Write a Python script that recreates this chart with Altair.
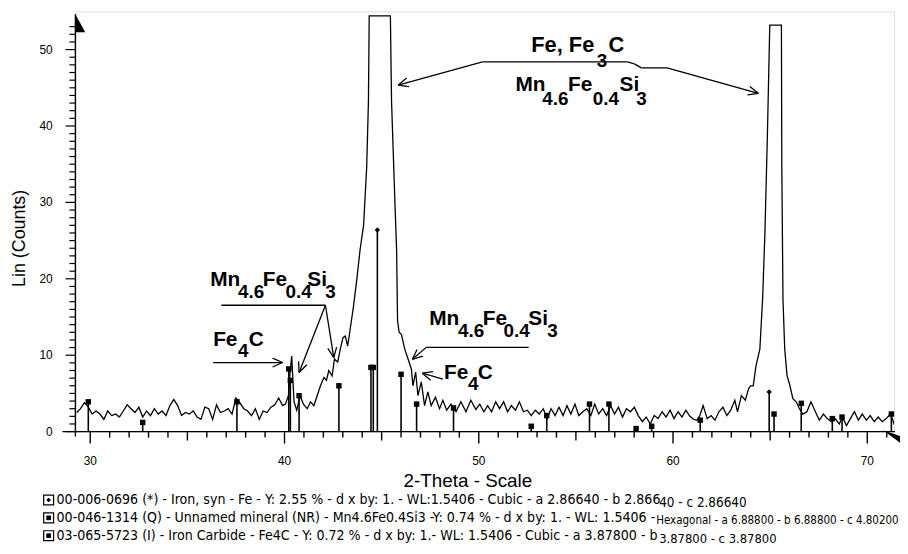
import math
import altair as alt
import pandas as pd

# ---------------- data ----------------
two_theta = [29.3, 29.5, 29.7, 29.9, 30.1, 30.3, 30.5, 30.7, 30.9, 31.1, 31.3, 31.5, 31.7, 31.9,
             32.1, 32.3, 32.5, 32.7, 32.9, 33.1, 33.3, 33.5, 33.7, 33.9, 34.1, 34.3, 34.5, 34.7,
             34.9, 35.1, 35.3, 35.5, 35.7, 35.9, 36.1, 36.3, 36.5, 36.7, 36.9, 37.1, 37.3, 37.5,
             37.7, 37.9, 38.1, 38.3, 38.5, 38.7, 38.9, 39.1, 39.3, 39.5, 39.7, 39.9, 40.05, 40.2,
             40.28, 40.37, 40.49, 40.63, 40.80, 40.97, 41.17, 41.34, 41.51, 41.68, 41.85, 42.03,
             42.16, 42.28, 42.45, 42.57, 42.74, 42.87, 43.01, 43.13, 43.25, 43.38, 43.55, 43.72,
             43.89, 44.07, 44.23, 44.32, 44.36, 45.45, 45.51, 45.68, 45.77, 45.82, 45.9, 46.02,
             46.19, 46.36, 46.53, 46.61, 46.75, 46.87, 47.04, 47.21, 47.38, 47.55, 47.77, 47.98,
             48.15, 48.35, 48.57, 48.83, 49.08, 49.34, 49.59, 49.85, 50.05, 50.26, 50.46, 50.66,
             50.87, 51.07, 51.28, 51.48, 51.68, 51.89, 52.09, 52.30, 52.50, 52.70, 52.91, 53.11,
             53.32, 53.52, 53.72, 53.93, 54.13, 54.34, 54.54, 54.74, 54.95, 55.15, 55.36, 55.56,
             55.77, 55.97, 56.17, 56.38, 56.58, 56.79, 56.99, 57.19, 57.40, 57.60, 57.81, 58.01,
             58.21, 58.42, 58.62, 58.83, 59.03, 59.23, 59.44, 59.64, 59.85, 60.05, 60.26, 60.46,
             60.66, 60.87, 61.07, 61.25, 61.38, 61.55, 61.76, 61.96, 62.16, 62.36, 62.57, 62.77,
             62.97, 63.18, 63.32, 63.52, 63.72, 63.89, 63.99, 64.13, 64.27, 64.35, 64.47, 64.61,
             64.73, 64.86, 64.98, 65.58, 65.60, 65.66, 65.75, 65.87, 66.0, 66.17, 66.34, 66.51,
             66.68, 66.89, 67.1, 67.33, 67.53, 67.74, 67.94, 68.15, 68.35, 68.56, 68.72, 68.93,
             69.13, 69.34, 69.54, 69.74, 69.95, 70.15, 70.36, 70.56, 70.77, 70.97, 71.2, 71.38,
             71.62]
counts = [2.5, 3.0, 3.8, 3.2, 2.3, 2.7, 2.3, 1.6, 2.7, 2.1, 2.3, 1.9, 2.7, 3.5,
          3.0, 2.5, 3.2, 1.9, 2.7, 2.1, 3.0, 2.3, 2.7, 2.1, 3.4, 4.2, 3.4, 2.1,
          2.5, 2.3, 2.7, 1.9, 1.6, 3.2, 3.0, 1.6, 3.5, 2.5, 2.7, 3.0, 2.3, 4.4,
          3.8, 3.0, 2.7, 2.1, 3.0, 1.6, 2.7, 2.5, 3.2, 3.5, 4.4, 3.4, 3.6, 4.7,
          7.5, 9.9, 3.9, 2.8, 4.7, 3.6, 3.0, 3.9, 3.4, 4.7, 6.0, 7.1,
          6.7, 8.0, 7.3, 9.5, 9.1, 10.8, 12.3, 12.5, 11.2, 13.4, 16.4, 19.9,
          23.8, 27.0, 34.6, 43.2, 54.4, 54.4, 43.2, 30.3, 23.8, 14.5, 13.0, 12.7,
          10.8, 9.5, 8.2, 6.0, 7.8, 4.7, 6.5, 3.4, 5.2, 3.4, 4.5, 3.0,
          4.1, 2.8, 3.6, 2.6, 3.9, 2.6, 4.1, 2.9, 3.6, 2.6, 3.4, 2.6,
          3.9, 3.0, 3.9, 2.6, 3.4, 2.8, 3.9, 2.6, 2.8, 2.1, 2.8, 2.3,
          3.0, 1.7, 3.0, 2.1, 3.2, 2.1, 3.4, 2.3, 3.6, 2.1, 2.6, 3.0,
          2.1, 3.6, 2.3, 3.0, 2.1, 3.4, 2.3, 3.2, 1.9, 3.0, 2.6, 3.2,
          2.1, 1.3, 1.9, 1.0, 2.1, 1.7, 2.6, 1.9, 2.8, 1.7, 2.6, 1.9,
          2.8, 2.0, 1.6, 1.5, 2.1, 3.4, 1.7, 2.1, 1.5, 2.6, 3.2, 2.1,
          2.8, 4.1, 2.6, 4.7, 4.1, 5.6, 6.0, 6.0, 8.6, 9.5, 10.8, 17.3,
          26.0, 39.0, 53.2, 53.2, 34.6, 17.3, 10.8, 7.3, 6.2, 4.3, 3.9, 3.0,
          2.3, 2.6, 3.9, 2.6, 1.5, 2.3, 1.7, 1.3, 1.7, 1.0, 1.9, 0.8,
          1.7, 2.6, 1.5, 2.3, 1.5, 2.1, 1.3, 1.9, 1.3, 1.7, 2.3, 1.0,
          1.5]

# reference-pattern sticks
stick_pos = [29.9, 32.7, 37.55, 40.22, 40.3, 40.75, 42.8, 44.45, 44.57, 44.78, 46.0, 46.8,
             48.7, 52.7, 53.5, 55.7, 56.7, 58.1, 58.9, 61.4, 64.95, 65.2, 66.6, 68.2, 68.7, 71.24]
stick_h = [3.9, 1.2, 3.9, 8.2, 6.7, 4.7, 6.0, 8.4, 8.4, 26.4, 7.5, 3.6,
           3.1, 0.7, 2.1, 3.6, 3.6, 0.4, 0.7, 1.5, 5.2, 2.3, 3.7, 1.7, 1.9, 2.3]
stick_phase = ["Q", "I", "Q", "I", "Q", "Q", "Q", "Q", "Q", "Fe", "Q", "I",
               "Q", "I", "Q", "Q", "Q", "I", "Q", "Q", "Fe", "Q", "Q", "I", "Q", "Q"]

legend_main = [
    "00-006-0696 (*) - Iron, syn - Fe - Y: 2.55 % - d x by: 1. - WL:1.5406 - Cubic - a 2.86640 - b 2.866",
    "00-046-1314 (Q) - Unnamed mineral (NR) - Mn4.6Fe0.4Si3 -Y: 0.74 % - d x by: 1. - WL: 1.5406 -",
    "03-065-5723 (I) - Iron Carbide - Fe4C - Y: 0.72 % - d x by: 1.- WL: 1.5406 - Cubic - a 3.87800 - b",
]
legend_cont = [
    "40 - c 2.86640",
    "Hexagonal - a 6.88800 - b 6.88800 - c 4.80200",
    "3.87800 - c 3.87800",
]
legend_icon = ["diamond", "square", "square"]

x_ticks = list(range(30, 72))
x_labels = [30, 40, 50, 60, 70]
y_ticks = list(range(0, 54))
y_labels = [0, 10, 20, 30, 40, 50]

# ---------------- layout ----------------
PLOT_LEFT, PLOT_TOP = 76, 9
W, H = 826, 424
X_DOMAIN = [29.235, 71.378]
Y_DOMAIN = [0, 55]
FONT = "Liberation Sans"
NARROW = "'DejaVu Sans Condensed', sans-serif"


def tx(px):
    return X_DOMAIN[0] + (px - PLOT_LEFT) / W * (X_DOMAIN[1] - X_DOMAIN[0])


def cy(py):
    return Y_DOMAIN[1] - (py - PLOT_TOP) / H * (Y_DOMAIN[1] - Y_DOMAIN[0])


def px_of(t):
    return PLOT_LEFT + (t - X_DOMAIN[0]) / (X_DOMAIN[1] - X_DOMAIN[0]) * W


def py_of(c):
    return PLOT_TOP + (Y_DOMAIN[1] - c) / (Y_DOMAIN[1] - Y_DOMAIN[0]) * H


xs = alt.Scale(domain=X_DOMAIN, nice=False, zero=False)
ys = alt.Scale(domain=Y_DOMAIN, nice=False, zero=False)
AX0 = py_of(0)          # pixel row of the x axis
AY0 = PLOT_LEFT         # pixel column of the y axis


def seg_chart(segs, width=1.3):
    df = pd.DataFrame({
        "t1": [tx(a[0]) for a, b in segs], "c1": [cy(a[1]) for a, b in segs],
        "t2": [tx(b[0]) for a, b in segs], "c2": [cy(b[1]) for a, b in segs],
    })
    return alt.Chart(df).mark_rule(color="black", strokeWidth=width).encode(
        x=alt.X("t1:Q", scale=xs, axis=None), y=alt.Y("c1:Q", scale=ys, axis=None),
        x2="t2:Q", y2="c2:Q")


def text_chart(texts, xs_px, ys_px, sizes=None, **kw):
    df = pd.DataFrame({"txt": texts, "t": [tx(v) for v in xs_px], "c": [cy(v) for v in ys_px]})
    enc = dict(x=alt.X("t:Q", scale=xs, axis=None), y=alt.Y("c:Q", scale=ys, axis=None),
               text="txt:N")
    if sizes is not None:
        df["size"] = sizes
        enc["size"] = alt.Size("size:Q", scale=None, legend=None)
    return alt.Chart(df).mark_text(color="black", **kw).encode(**enc)


scan = pd.DataFrame({"t": two_theta, "c": counts})
line = alt.Chart(scan).mark_line(color="black", strokeWidth=1.3, clip=True).encode(
    x=alt.X("t:Q", scale=xs, axis=None),
    y=alt.Y("c:Q", scale=ys, axis=None),
)

sticks = pd.DataFrame({"t": stick_pos, "h": stick_h, "phase": stick_phase,
                       "base": [0.0] * len(stick_pos)})
stick_rules = alt.Chart(sticks).mark_rule(color="black", strokeWidth=1.6).encode(
    x=alt.X("t:Q", scale=xs, axis=None), y=alt.Y("h:Q", scale=ys, axis=None), y2="base:Q")
stick_marks = alt.Chart(sticks).mark_point(filled=True, color="black", opacity=1, size=30).encode(
    x=alt.X("t:Q", scale=xs, axis=None), y=alt.Y("h:Q", scale=ys, axis=None),
    shape=alt.Shape("phase:N", scale=alt.Scale(domain=["Fe", "Q", "I"],
                                               range=["diamond", "square", "square"]), legend=None))

# ---------------- axes drawn by hand ----------------
axis_segs = [((63, AX0), (903, AX0)), ((AY0, AX0 + 5), (AY0, 12))]
for v in x_ticks:
    L = 12 if v % 10 == 0 else (9 if v % 5 == 0 else 6)
    axis_segs.append(((px_of(v), AX0), (px_of(v), AX0 + L)))
tick_y = []
for v in y_ticks:
    L = 10 if v % 10 == 0 else 6
    tick_y.append(((AY0, py_of(v)), (AY0 - L, py_of(v))))
axes = seg_chart(axis_segs, 1.4)
yticks = seg_chart(tick_y, 1.2)
x_tick_labels = text_chart([str(v) for v in x_labels], [px_of(v) for v in x_labels],
                           [AX0 + 30] * len(x_labels), font=FONT, fontSize=12,
                           align="center", baseline="middle")
y_tick_labels = text_chart([str(v) for v in y_labels], [53] * len(y_labels),
                           [py_of(v) for v in y_labels], font=FONT, fontSize=12,
                           align="right", baseline="middle")

arrows_df = pd.DataFrame({"t": [tx(76), tx(900)], "c": [cy(21), cy(436)],
                          "shape": ["M0,-1 L0,1 L1.1,1 Z", "M-1,-0.5 L1,0.2 L1,1 Z"]})
arrows = alt.Chart(arrows_df).mark_point(filled=True, color="black", opacity=1, size=324).encode(
    x=alt.X("t:Q", scale=xs, axis=None), y=alt.Y("c:Q", scale=ys, axis=None),
    shape=alt.Shape("shape:N", scale=None, legend=None))

# ---------------- annotations ----------------
pieces = [
    ("Fe, Fe", 536, 50, 22), ("3", 602, 65, 19), ("C", 614, 50, 22),
    ("Mn", 520, 89, 21), ("4.6", 547, 103, 19), ("Fe", 573, 89, 21), ("0.4", 598, 103, 19),
    ("Si", 625, 89, 21), ("3", 642, 103, 19),
    ("Mn", 212, 286, 21), ("4.6", 240, 298, 19), ("Fe", 265, 286, 21), ("0.4", 288, 298, 19),
    ("Si", 310, 286, 21), ("3", 328, 298, 19),
    ("Fe", 215, 347, 21), ("4", 240, 358, 19), ("C", 251, 347, 21),
    ("Mn", 433, 325, 21), ("4.6", 462, 338, 19), ("Fe", 487, 325, 21), ("0.4", 508, 338, 19),
    ("Si", 533, 325, 21), ("3", 552, 338, 19),
    ("Fe", 448, 380, 21), ("4", 472, 391, 19), ("C", 482, 380, 21),
]
ann_text = text_chart([p[0] for p in pieces], [p[1] for p in pieces], [p[2] for p in pieces],
                      sizes=[p[3] for p in pieces], align="left", baseline="alphabetic",
                      font=FONT, fontWeight="bold")

segs = [
    ((486.7, 60), (401.7, 83.3)), ((486.7, 60), (633, 60)), ((633, 60), (640, 62)),
    ((640, 62), (647, 66)), ((647, 66), (673, 66)), ((673, 66), (765, 91.7)),
    ((223.3, 305.5), (328.3, 305.5)), ((328.3, 305.5), (301.7, 373.3)),
    ((328.3, 305.5), (336.7, 358.3)),
    ((215, 363.3), (285, 363.3)),
    ((533.3, 348), (430, 348)), ((430, 348), (416, 360)),
    ((446.7, 380), (426, 374)),
]
heads = [((401.7, 83.3), (486.7, 60)), ((765, 91.7), (673, 66)),
         ((301.7, 373.3), (328.3, 305.5)), ((336.7, 358.3), (328.3, 305.5)),
         ((285, 363.3), (215, 363.3)), ((416, 360), (430, 348)), ((426, 374), (446.7, 380))]
for tip, frm in heads:
    dx, dy = tip[0] - frm[0], tip[1] - frm[1]
    n = math.hypot(dx, dy)
    ux, uy = dx / n, dy / n
    for s in (1, -1):
        a = math.radians(24 * s)
        rx = ux * math.cos(a) - uy * math.sin(a)
        ry = ux * math.sin(a) + uy * math.cos(a)
        segs.append((tip, (tip[0] - 11 * rx, tip[1] - 11 * ry)))
ann_lines = seg_chart(segs, 1.3)

# axis titles
x_title = text_chart(["2-Theta - Scale"], [472], [483], font=FONT, fontSize=19,
                     align="center", baseline="middle")
y_title = text_chart(["Lin (Counts)"], [20], [238], font=FONT, fontSize=18, angle=270,
                     align="center", baseline="middle")

# legend block
leg_y = [502, 520, 538]
leg_text = text_chart(legend_main, [57] * 3, leg_y, font=NARROW, fontSize=14.2,
                      align="left", baseline="middle")
leg_cont = text_chart(legend_cont, [665, 662, 665], [v + 3 for v in leg_y],
                      sizes=[13.5, 11.6, 13], font=NARROW, align="left", baseline="middle")
box_df = pd.DataFrame({"t": [tx(49)] * 3, "c": [cy(v) for v in leg_y], "icon": legend_icon})
leg_box = alt.Chart(box_df).mark_point(shape="square", filled=False, color="black", size=100,
                                       strokeWidth=1.2, opacity=1).encode(
    x=alt.X("t:Q", scale=xs, axis=None), y=alt.Y("c:Q", scale=ys, axis=None))
leg_icon = alt.Chart(box_df).mark_point(filled=True, color="black", size=22, opacity=1).encode(
    x=alt.X("t:Q", scale=xs, axis=None), y=alt.Y("c:Q", scale=ys, axis=None),
    shape=alt.Shape("icon:N", scale=None, legend=None))

chart = alt.layer(
    line, stick_rules, stick_marks, axes, yticks, x_tick_labels, y_tick_labels, arrows,
    ann_lines, ann_text, x_title, y_title, leg_text, leg_cont, leg_box, leg_icon,
).properties(
    width=W, height=H,
    autosize=alt.AutoSizeParams(type="none"),
    padding={"left": PLOT_LEFT - 8, "top": PLOT_TOP - 8, "right": 6, "bottom": 113},
).configure_view(stroke=None).configure(background="white")

chart.save("out.html", embed_options={"renderer": "svg", "actions": False})
